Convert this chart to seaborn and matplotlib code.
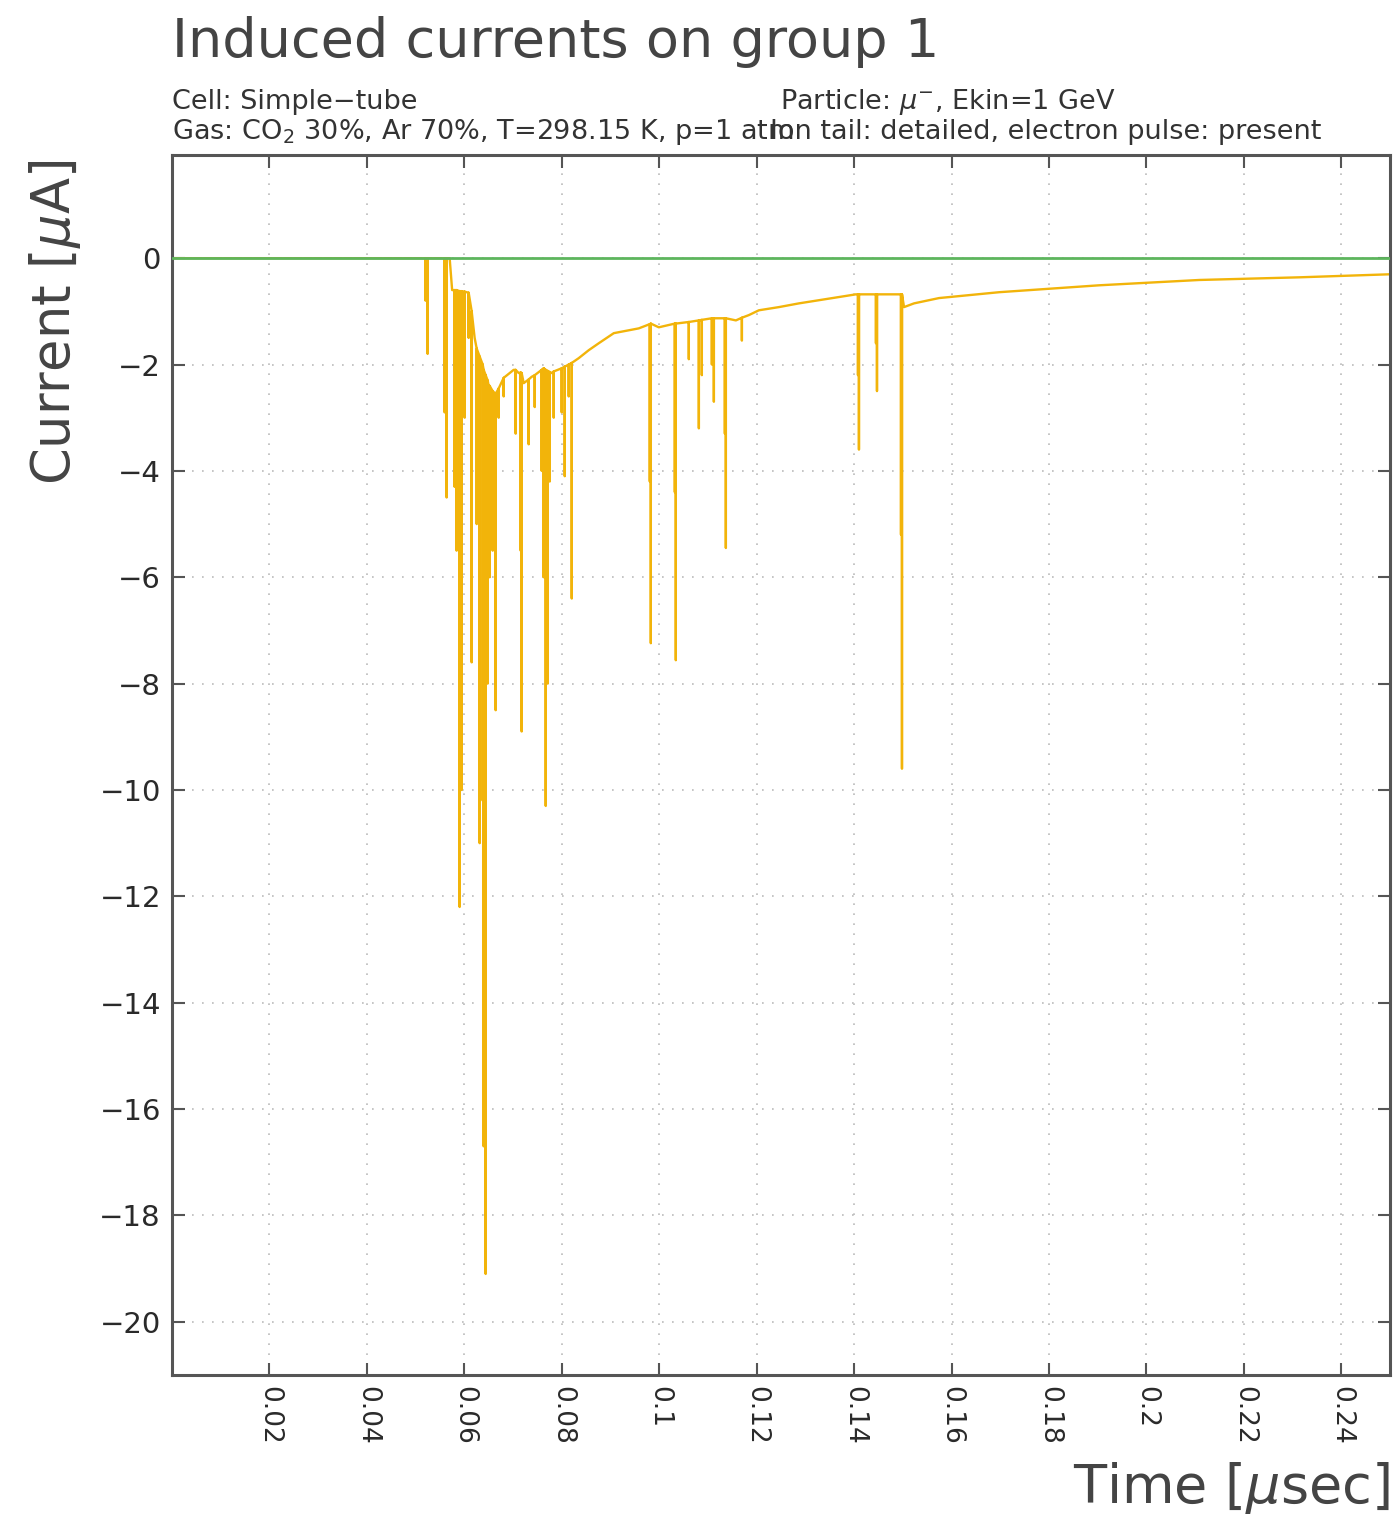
import numpy as np
import pandas as pd
import matplotlib
matplotlib.use("Agg")
import matplotlib.pyplot as plt
import seaborn as sns

# ---------------- data ----------------
# ion-tail baseline of the induced current  [time in usec, current in uA]
base_t = [0.0, 0.05226, 0.05699, 0.05750, 0.06089, 0.06212, 0.06336, 0.06500,
          0.06643, 0.06808, 0.07013, 0.07116, 0.07219, 0.07383, 0.07629, 0.07794,
          0.07999, 0.08205, 0.08348, 0.08554, 0.08759, 0.09068, 0.09581, 0.09828,
          0.09992, 0.10341, 0.10608, 0.10814, 0.11122, 0.11368, 0.11574, 0.11841,
          0.12046, 0.12457, 0.12868, 0.13279, 0.13690, 0.14039, 0.14409, 0.14902,
          0.15025, 0.15230, 0.15538, 0.15744, 0.16976, 0.19031, 0.21085, 0.23139,
          0.25090]
base_v = [0.0, 0.0, 0.0, -0.60, -0.65, -1.50, -1.90, -2.40,
          -2.55, -2.25, -2.10, -2.16, -2.35, -2.23, -2.07, -2.16,
          -2.07, -1.97, -1.88, -1.73, -1.60, -1.41, -1.32, -1.23,
          -1.30, -1.23, -1.20, -1.17, -1.13, -1.13, -1.17, -1.07,
          -0.98, -0.92, -0.85, -0.79, -0.73, -0.68, -0.68, -0.68,
          -0.92, -0.85, -0.79, -0.75, -0.64, -0.51, -0.41, -0.36,
          -0.30]

# electron pulses (spikes): time, level before the spike, spike tip
spike_t = [0.05205, 0.05247, 0.05596, 0.05637, 0.05801, 0.05842, 0.05904, 0.05945,
           0.06007, 0.06089, 0.06151, 0.06254, 0.06315, 0.06377, 0.06397, 0.06438,
           0.06479, 0.06520, 0.06582, 0.06643, 0.06705, 0.06808, 0.07054, 0.07157,
           0.07177, 0.07321, 0.07445, 0.07588, 0.07629, 0.07671, 0.07712, 0.07753,
           0.07835, 0.07999, 0.08061, 0.08143, 0.08205, 0.09807, 0.09828, 0.10321,
           0.10341, 0.10608, 0.10814, 0.10875, 0.11081, 0.11122, 0.11348, 0.11368,
           0.11697, 0.14080, 0.14100, 0.14449, 0.14470, 0.14963, 0.14983]
spike_base = [0.0, 0.0, 0.0, 0.0, -0.60, -0.60, -0.62, -0.62,
              -0.63, -0.65, -1.00, -1.70, -1.85, -2.00, -2.10, -2.20,
              -2.30, -2.40, -2.50, -2.55, -2.45, -2.25, -2.10, -2.15,
              -2.16, -2.28, -2.20, -2.10, -2.07, -2.10, -2.12, -2.14,
              -2.13, -2.07, -2.04, -2.00, -1.97, -1.24, -1.23, -1.23,
              -1.23, -1.20, -1.17, -1.16, -1.13, -1.13, -1.13, -1.13,
              -1.12, -0.68, -0.68, -0.68, -0.68, -0.68, -0.68]
spike_tip = [-0.8, -1.8, -2.9, -4.5, -4.3, -5.5, -12.2, -10.0,
             -3.0, -1.5, -7.6, -5.0, -11.0, -10.2, -16.7, -19.1,
             -8.0, -6.0, -5.5, -8.5, -3.0, -2.6, -3.3, -5.5,
             -8.9, -3.5, -2.8, -4.0, -6.0, -10.3, -8.0, -4.2,
             -3.0, -2.9, -4.1, -2.6, -6.4, -4.2, -7.24, -4.4,
             -7.56, -1.9, -3.2, -2.2, -2.0, -2.7, -3.3, -5.45,
             -1.55, -2.2, -3.6, -1.6, -2.5, -5.2, -9.6]

zero_t = [0.0, 0.25]
zero_v = [0.0, 0.0]

x_ticks = [0.02, 0.04, 0.06, 0.08, 0.10, 0.12, 0.14, 0.16, 0.18, 0.20, 0.22, 0.24]
x_tick_labels = ["0.02", "0.04", "0.06", "0.08", "0.1", "0.12", "0.14", "0.16",
                 "0.18", "0.2", "0.22", "0.24"]
y_ticks = [0, -2, -4, -6, -8, -10, -12, -14, -16, -18, -20]
y_tick_labels = ["0", "\u22122", "\u22124", "\u22126", "\u22128", "\u221210",
                 "\u221212", "\u221214", "\u221216", "\u221218", "\u221220"]

# --------------- assemble polyline from the data ----------------
events = []
for t, v in zip(base_t, base_v):
    events.append((t, 0, v))
for t, b, d in zip(spike_t, spike_base, spike_tip):
    events.append((t, 0, b))
    events.append((t, 1, d))
    events.append((t + 2e-6, 0, b))
events.sort(key=lambda e: (e[0], e[1]))
sig = pd.DataFrame({"t": [e[0] for e in events], "v": [e[2] for e in events]})
zero = pd.DataFrame({"t": zero_t, "v": zero_v})

# ---------------- figure ----------------
sns.set_theme(style="white")
plt.rcParams["font.family"] = ["DejaVu Sans"]
W, H = 1395, 1517
fig = plt.figure(figsize=(W / 100, H / 100), dpi=100)
ax = fig.add_axes([172 / W, 1 - 1375 / H, (1390 - 172) / W, (1375 - 155) / H])

sns.lineplot(data=sig, x="t", y="v", ax=ax, sort=False, estimator=None,
             color="#F2B40A", linewidth=1.7, zorder=2)
sns.lineplot(data=zero, x="t", y="v", ax=ax, sort=False, estimator=None,
             color="#5DB55D", linewidth=2.0, zorder=3)

ax.set_xlim(0, 0.25)
ax.set_ylim(-21.0, 1.94)
ax.set_xticks(x_ticks)
ax.set_xticklabels(x_tick_labels, rotation=-90, fontsize=19, color="#2a2a2a",
                   va="top", ha="center")
ax.set_yticks(y_ticks)
ax.set_yticklabels(y_tick_labels, fontsize=21, color="#2a2a2a")
ax.tick_params(axis="both", direction="in", length=9, width=1.5, color="#555555",
               top=True, right=True, bottom=True, left=True, pad=8)
ax.grid(True, linestyle=(0, (1, 5)), color="#bbbbbb", linewidth=1.2)
for s in ax.spines.values():
    s.set_color("#555555")
    s.set_linewidth(2.2)
ax.set_xlabel("")
ax.set_ylabel("")

txt = "#333333"
fig.text(172 / W, 1 - 42 / H, "Induced currents on group 1", fontsize=39,
         color="#444444", va="center", ha="left")
fig.text(172 / W, 1 - 102 / H, "Cell: Simple\u2212tube", fontsize=19.5,
         color=txt, va="center", ha="left")
fig.text(780 / W, 1 - 102 / H, "Particle: $\\mu^{-}$, Ekin=1 GeV", fontsize=19.5,
         color=txt, va="center", ha="left")
fig.text(172 / W, 1 - 132 / H, "Gas: CO$_2$ 30%, Ar 70%, T=298.15 K, p=1 atm",
         fontsize=19.5, color=txt, va="center", ha="left")
fig.text(770 / W, 1 - 132 / H, "Ion tail: detailed, electron pulse: present",
         fontsize=19.5, color=txt, va="center", ha="left")
fig.text(55 / W, 1 - 322 / H, "Current [$\\mu$A]", fontsize=38, color="#444444",
         rotation=90, va="center", ha="center")
fig.text(1390 / W, 1 - 1488 / H, "Time [$\\mu$sec]", fontsize=39, color="#444444",
         va="center", ha="right")

fig.savefig("out.png", dpi=100)
